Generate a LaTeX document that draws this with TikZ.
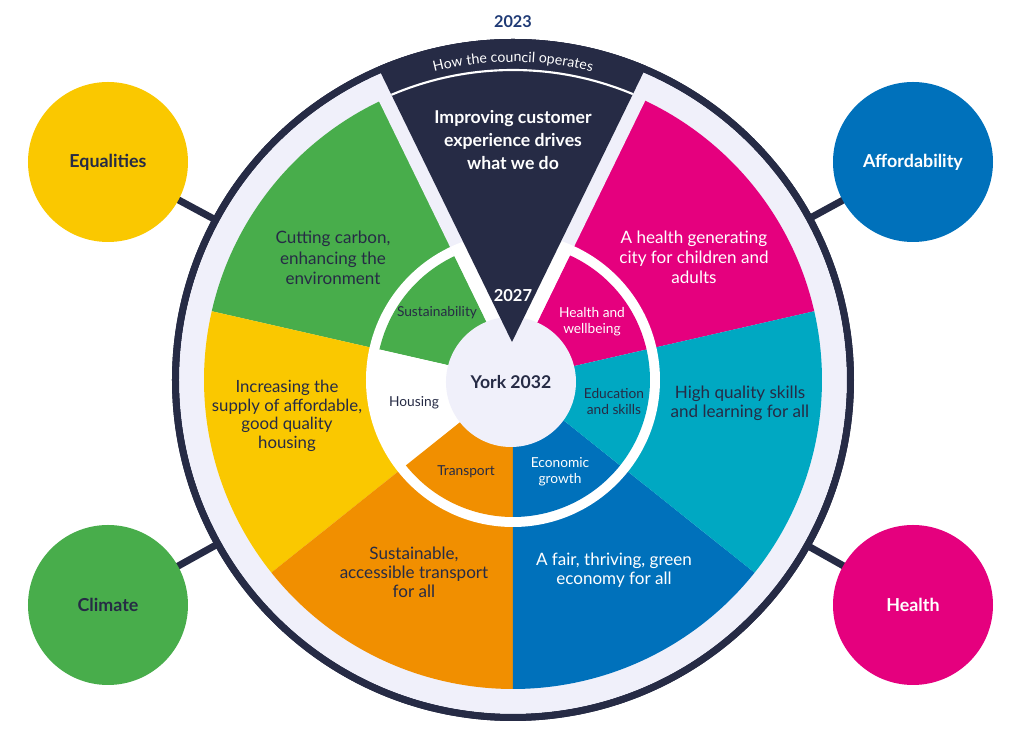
\documentclass[tikz,border=0pt]{standalone}
\usepackage{fontspec}
\setmainfont{Lato}
\usetikzlibrary{decorations.text}
\definecolor{navy}{HTML}{262B45}
\definecolor{lav}{HTML}{F0F0FA}
\definecolor{cgreen}{HTML}{48AD4B}
\definecolor{cyellow}{HTML}{FAC800}
\definecolor{corange}{HTML}{F18F00}
\definecolor{cblue}{HTML}{0071BB}
\definecolor{cteal}{HTML}{00A8C2}
\definecolor{cpink}{HTML}{E5007E}
\definecolor{yearblue}{HTML}{1F3A75}
\newcommand\wsector[4]{\fill[#1] (0,0) -- (#2:#4) arc[start angle=#2, end angle=#3, radius=#4] -- cycle;}
\begin{document}
\begin{tikzpicture}[x=0.75pt,y=0.75pt,
  sat/.style={circle, minimum size=120pt, inner sep=0pt, font=\bfseries\fontsize{13.4}{15}\selectfont},
  big/.style={align=center, font=\fontsize{12.8}{14.5}\selectfont, text=navy},
  small/.style={align=center, font=\fontsize{10.3}{12}\selectfont, text=navy},
  link/.style={draw=navy, line width=5.25pt}]
\useasboundingbox (-513,-350) rectangle (502,380);
\fill[white] (-513,-350) rectangle (502,380);
% connectors
\coordinate (hub) at (0,0);
\coordinate (eqpos) at (-405,218);
\coordinate (afpos) at (400,218);
\coordinate (clpos) at (-405,-225);
\coordinate (hepos) at (400,-225);
\draw[link] (eqpos) -- (hub);
\draw[link] (afpos) -- (hub);
\draw[link] (clpos) -- (hub);
\draw[link] (hepos) -- (hub);
\node[sat, fill=cyellow, text=navy] (eq) at (eqpos) {Equalities};
\node[sat, fill=cblue, text=white] (af) at (afpos) {Affordability};
\node[sat, fill=cgreen, text=navy] (cl) at (clpos) {Climate};
\node[sat, fill=cpink, text=white] (he) at (hepos) {Health};
% wheel base
\fill[navy] (0,0) circle[radius=341];
\fill[lav] (0,0) circle[radius=334];
% outer sectors
\wsector{cpink}{12.86}{90}{309}
\wsector{cgreen}{90}{167.14}{309}
\wsector{cyellow}{167.14}{218.57}{309}
\wsector{corange}{218.57}{270}{309}
\wsector{cblue}{270}{321.43}{309}
\wsector{cteal}{-38.57}{12.86}{309}
% white ring
\fill[white] (0,0) circle[radius=147];
% inner sectors
\wsector{cpink}{12.86}{90}{137}
\wsector{cgreen}{90}{167.14}{137}
\wsector{white}{167.14}{218.57}{137}
\wsector{corange}{218.57}{270}{137}
\wsector{cblue}{270}{321.43}{137}
\wsector{cteal}{-38.57}{12.86}{137}
% gaps along the top wedge
\begin{scope}
  \clip (0,0) circle[radius=334];
  \draw[lav, line width=21pt] (-1,38) -- +(116:600) (-1,38) -- +(64:600);
\end{scope}
\begin{scope}
  \clip (0,0) circle[radius=147];
  \draw[white, line width=21pt] (-1,38) -- +(116:600) (-1,38) -- +(64:600);
\end{scope}
% centre
\node[circle, fill=lav, minimum size=97.5pt, inner sep=0pt] (york) at (-2,-2) {};
% top wedge
\begin{scope}
  \clip (0,0) circle[radius=341];
  \fill[navy] (-1,38) -- +(116:600) -- +(64:600) -- cycle;
  \clip (-1,38) -- +(116:600) -- +(64:600) -- cycle;
  \draw[white, line width=1.6pt] (125:310) arc[start angle=125, end angle=55, radius=310];
\end{scope}
\draw[navy, line width=5.25pt] (0,0) circle[radius=337.5];
\path[decorate, decoration={text along path, text align=center,
  text={|\color{white}\fontsize{10.6}{11}\selectfont|How the council operates}}]
  (114:318) arc[start angle=114, end angle=66, radius=318];
% labels
\node[font=\bfseries\fontsize{12.2}{13}\selectfont, text=yearblue] (y23) at (0,358) {2023};
\node[font=\bfseries\fontsize{13.2}{14}\selectfont, text=navy] (yk) at (-2,-2) {York 2032};
\node[font=\bfseries\fontsize{12.4}{14}\selectfont, text=white] (y27) at (0,84) {2027};
\node[big, text=white, font=\bfseries\fontsize{13.25}{17.25}\selectfont] (cx) at (0,240) {Improving customer\\experience drives\\what we do};
\node[big, font=\fontsize{12.8}{15.4}\selectfont] (tg) at (-180,122) {Cutting carbon,\\enhancing the\\environment};
\node[big, font=\fontsize{12.6}{13.9}\selectfont] (ty) at (-226,-36) {Increasing the\\supply of affordable,\\good quality\\housing};
\node[big, font=\fontsize{12.8}{14.25}\selectfont] (to) at (-99,-192) {Sustainable,\\accessible transport\\for all};
\node[big, text=white, font=\fontsize{12.8}{14.25}\selectfont] (tb) at (101,-190) {A fair, thriving, green\\economy for all};
\node[big, font=\fontsize{12.8}{14.25}\selectfont] (tt) at (227,-23) {High quality skills\\and learning for all};
\node[big, text=white, font=\fontsize{12.8}{15}\selectfont] (tp) at (181,123) {A health generating\\city for children and\\adults};
\node[small] (sg) at (-76,67) {Sustainability};
\node[small] (sh) at (-99,-23) {Housing};
\node[small] (so) at (-47,-92) {Transport};
\node[small, text=white] (sb) at (47,-92) {Economic\\growth};
\node[small] (st) at (101,-22) {Education\\and skills};
\node[small, text=white] (sp) at (79,58) {Health and\\wellbeing};
\end{tikzpicture}
\end{document}
